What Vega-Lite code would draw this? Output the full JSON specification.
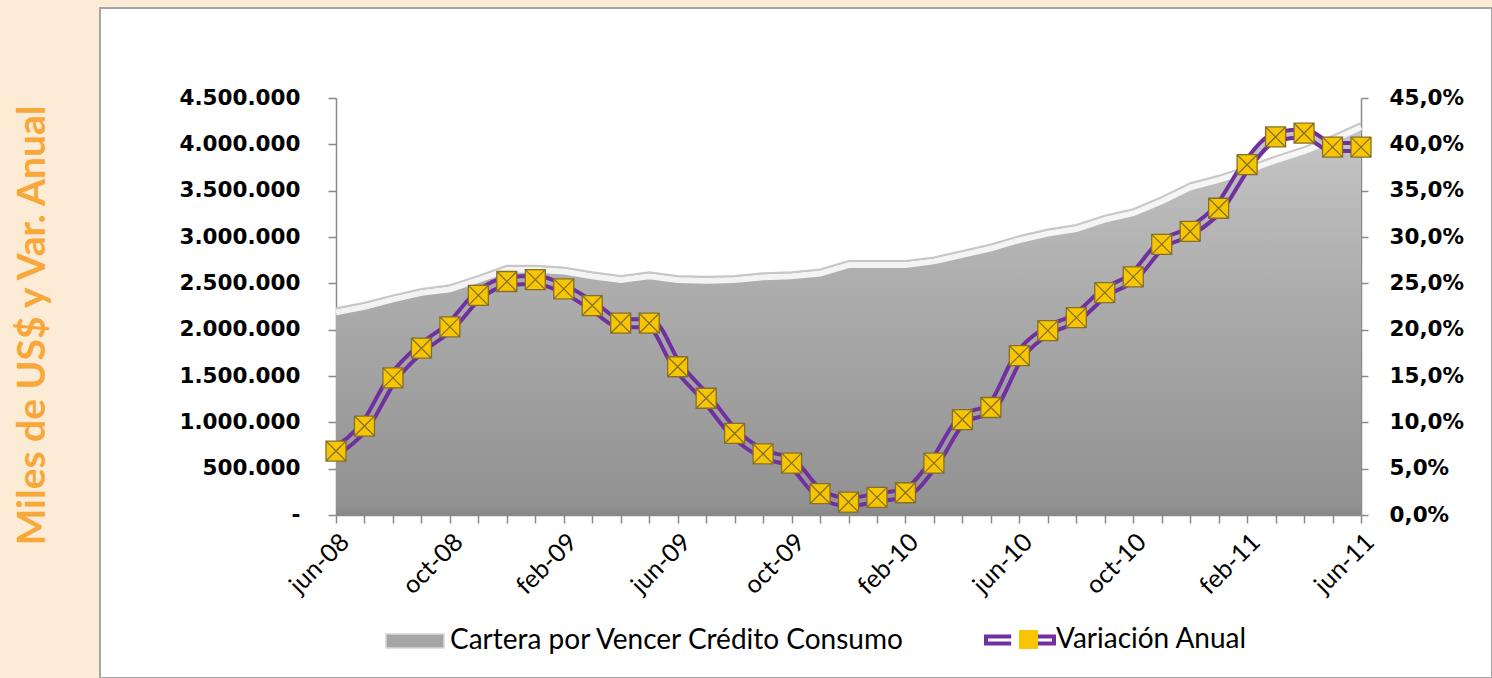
{
  "$schema": "https://vega.github.io/schema/vega-lite/v6.json",
  "width": 1392,
  "height": 670,
  "autosize": {"type": "none"},
  "padding": {"left": 100, "top": 8, "right": 0, "bottom": 0},
  "background": "#FDECD5",
  "config": {
    "view": {"fill": "white", "stroke": "#A6A6A6", "strokeWidth": 2},
    "axis": {"domainColor": "#8A8A8A", "domainWidth": 1.5, "tickColor": "#8A8A8A", "tickWidth": 1.5, "grid": false, "labelColor": "black"},
    "legend": {"labelFont": "Lato", "labelFontSize": 28, "labelColor": "black", "labelLimit": 1000, "title": null, "orient": "none", "padding": 0}
  },
  "data": {"values": [
    {"mes": "jun-08", "cartera": 2230000, "variacion": 0.069},
    {"mes": "jul-08", "cartera": 2290000, "variacion": 0.096},
    {"mes": "ago-08", "cartera": 2370000, "variacion": 0.148},
    {"mes": "sep-08", "cartera": 2440000, "variacion": 0.180},
    {"mes": "oct-08", "cartera": 2480000, "variacion": 0.203},
    {"mes": "nov-08", "cartera": 2580000, "variacion": 0.237},
    {"mes": "dic-08", "cartera": 2690000, "variacion": 0.252},
    {"mes": "ene-09", "cartera": 2690000, "variacion": 0.254},
    {"mes": "feb-09", "cartera": 2670000, "variacion": 0.244},
    {"mes": "mar-09", "cartera": 2620000, "variacion": 0.226},
    {"mes": "abr-09", "cartera": 2580000, "variacion": 0.207},
    {"mes": "may-09", "cartera": 2620000, "variacion": 0.207},
    {"mes": "jun-09", "cartera": 2580000, "variacion": 0.160},
    {"mes": "jul-09", "cartera": 2570000, "variacion": 0.126},
    {"mes": "ago-09", "cartera": 2580000, "variacion": 0.088},
    {"mes": "sep-09", "cartera": 2610000, "variacion": 0.066},
    {"mes": "oct-09", "cartera": 2620000, "variacion": 0.056},
    {"mes": "nov-09", "cartera": 2650000, "variacion": 0.023},
    {"mes": "dic-09", "cartera": 2740000, "variacion": 0.014},
    {"mes": "ene-10", "cartera": 2740000, "variacion": 0.019},
    {"mes": "feb-10", "cartera": 2740000, "variacion": 0.024},
    {"mes": "mar-10", "cartera": 2780000, "variacion": 0.056},
    {"mes": "abr-10", "cartera": 2850000, "variacion": 0.103},
    {"mes": "may-10", "cartera": 2920000, "variacion": 0.116},
    {"mes": "jun-10", "cartera": 3010000, "variacion": 0.172},
    {"mes": "jul-10", "cartera": 3080000, "variacion": 0.199},
    {"mes": "ago-10", "cartera": 3130000, "variacion": 0.213},
    {"mes": "sep-10", "cartera": 3230000, "variacion": 0.240},
    {"mes": "oct-10", "cartera": 3300000, "variacion": 0.257},
    {"mes": "nov-10", "cartera": 3430000, "variacion": 0.292},
    {"mes": "dic-10", "cartera": 3580000, "variacion": 0.306},
    {"mes": "ene-11", "cartera": 3660000, "variacion": 0.331},
    {"mes": "feb-11", "cartera": 3760000, "variacion": 0.378},
    {"mes": "mar-11", "cartera": 3870000, "variacion": 0.408},
    {"mes": "abr-11", "cartera": 3970000, "variacion": 0.412},
    {"mes": "may-11", "cartera": 4090000, "variacion": 0.397},
    {"mes": "jun-11", "cartera": 4230000, "variacion": 0.397}
  ]},
  "encoding": {
    "x": {
      "field": "mes", "type": "ordinal", "sort": null,
      "scale": {"type": "point", "range": [236, 1261], "padding": 0},
      "axis": {
        "title": null, "orient": "bottom", "offset": -163, "tickSize": 8,
        "labelAngle": -45, "labelFont": "Lato", "labelFontSize": 25, "labelPadding": 6,
        "labelOverlap": false,
        "labelExpr": "indexof(['jun-08','oct-08','feb-09','jun-09','oct-09','feb-10','jun-10','oct-10','feb-11','jun-11'], datum.value) >= 0 ? datum.value : ''"
      }
    }
  },
  "layer": [
    {
      "encoding": {
        "y": {
          "field": "cartera", "type": "quantitative",
          "scale": {"domain": [0, 4500000], "range": [507, 90], "nice": false},
          "axis": {
            "orient": "left", "offset": -236, "tickSize": 8, "labelPadding": 28,
            "values": [0, 500000, 1000000, 1500000, 2000000, 2500000, 3000000, 3500000, 4000000, 4500000],
            "labelFont": "DejaVu Sans", "labelFontWeight": "bold", "labelFontSize": 21.5,
            "labelExpr": "datum.value == 0 ? '-' : replace(format(datum.value, ',d'), regexp(',', 'g'), '.')",
            "title": "Miles de US$ y Var. Anual", "titleColor": "#F8A73A", "titleFont": "Lato",
            "titleFontSize": 39, "titleFontWeight": "bold", "titleAngle": -90,
            "titleX": -304, "titleY": 317, "titleAlign": "center", "titleBaseline": "middle"
          }
        }
      },
      "layer": [
        {
          "mark": {"type": "area"},
          "encoding": {
            "fill": {
              "datum": "Cartera por Vencer Crédito Consumo",
              "scale": {"range": ["#A6A6A6"]},
              "legend": {
                "legendX": 285, "legendY": 603,
                "symbolType": "M-1,-0.24H1V0.24H-1Z", "symbolSize": 3364,
                "symbolStrokeColor": "#D8D8D8", "symbolStrokeWidth": 1.5,
                "labelOffset": 5
              }
            }
          }
        },
        {
          "mark": {
            "type": "area",
            "color": {
              "gradient": "linear", "x1": 0, "y1": 0, "x2": 0, "y2": 1,
              "stops": [
                {"offset": 0, "color": "#C6C6C6"},
                {"offset": 0.4, "color": "#AEAEAE"},
                {"offset": 0.97, "color": "#929292"},
                {"offset": 1, "color": "#888888"}
              ]
            }
          }
        },
        {"mark": {"type": "line", "color": "white", "strokeWidth": 6, "opacity": 0.85, "yOffset": 4}},
        {"mark": {"type": "line", "color": "#C8C8C8", "strokeWidth": 2}}
      ]
    },
    {
      "encoding": {
        "y": {
          "field": "variacion", "type": "quantitative",
          "scale": {"domain": [0, 0.45], "range": [507, 90], "nice": false},
          "axis": {
            "orient": "right", "offset": -131, "tickSize": 7, "labelPadding": 21,
            "values": [0, 0.05, 0.1, 0.15, 0.2, 0.25, 0.3, 0.35, 0.4, 0.45],
            "labelFont": "DejaVu Sans", "labelFontWeight": "bold", "labelFontSize": 21.5,
            "labelExpr": "replace(format(datum.value, '.1%'), '.', ',')",
            "title": null
          }
        }
      },
      "layer": [
        {
          "mark": {"type": "line", "strokeWidth": 12, "interpolate": "monotone"},
          "encoding": {
            "stroke": {
              "datum": "Variación Anual",
              "scale": {"range": ["#7030A0"]},
              "legend": {
                "legendX": 884, "legendY": 596,
                "symbolType": "M-0.26,-0.1H-1V0.1H-0.26M0.26,-0.1H1V0.1H0.26",
                "symbolSize": 4624, "symbolStrokeWidth": 4, "symbolFillColor": "transparent",
                "labelOffset": 0
              }
            }
          }
        },
        {
          "mark": {
            "type": "line", "strokeWidth": 4, "interpolate": "monotone",
            "color": {
              "gradient": "linear", "x1": 0, "y1": 0, "x2": 0, "y2": 1,
              "stops": [
                {"offset": 0, "color": "#C4C4C4"},
                {"offset": 0.4, "color": "#ADADAD"},
                {"offset": 1, "color": "#959595"}
              ]
            }
          }
        },
        {
          "mark": {"type": "point", "filled": true, "size": 400, "fill": "#F7C600", "stroke": "#85702A", "strokeWidth": 1.3, "opacity": 1},
          "encoding": {
            "shape": {
              "datum": "marcador",
              "scale": {"range": ["M-1,-1H1V1H-1ZM-1,-1L1,1M1,-1L-1,1"]},
              "legend": {
                "legendX": 918, "legendY": 621,
                "symbolType": "M-1,-1H1V1H-1ZM-1,-1L1,1M1,-1L-1,1",
                "symbolSize": 361, "symbolFillColor": "#F7C600", "symbolStrokeColor": "#7A6A40",
                "symbolStrokeWidth": 1.5, "labelExpr": "''", "labelFontSize": 1
              }
            }
          }
        }
      ]
    }
  ],
  "resolve": {"scale": {"y": "independent", "fill": "independent", "stroke": "independent", "shape": "independent"}}
}
